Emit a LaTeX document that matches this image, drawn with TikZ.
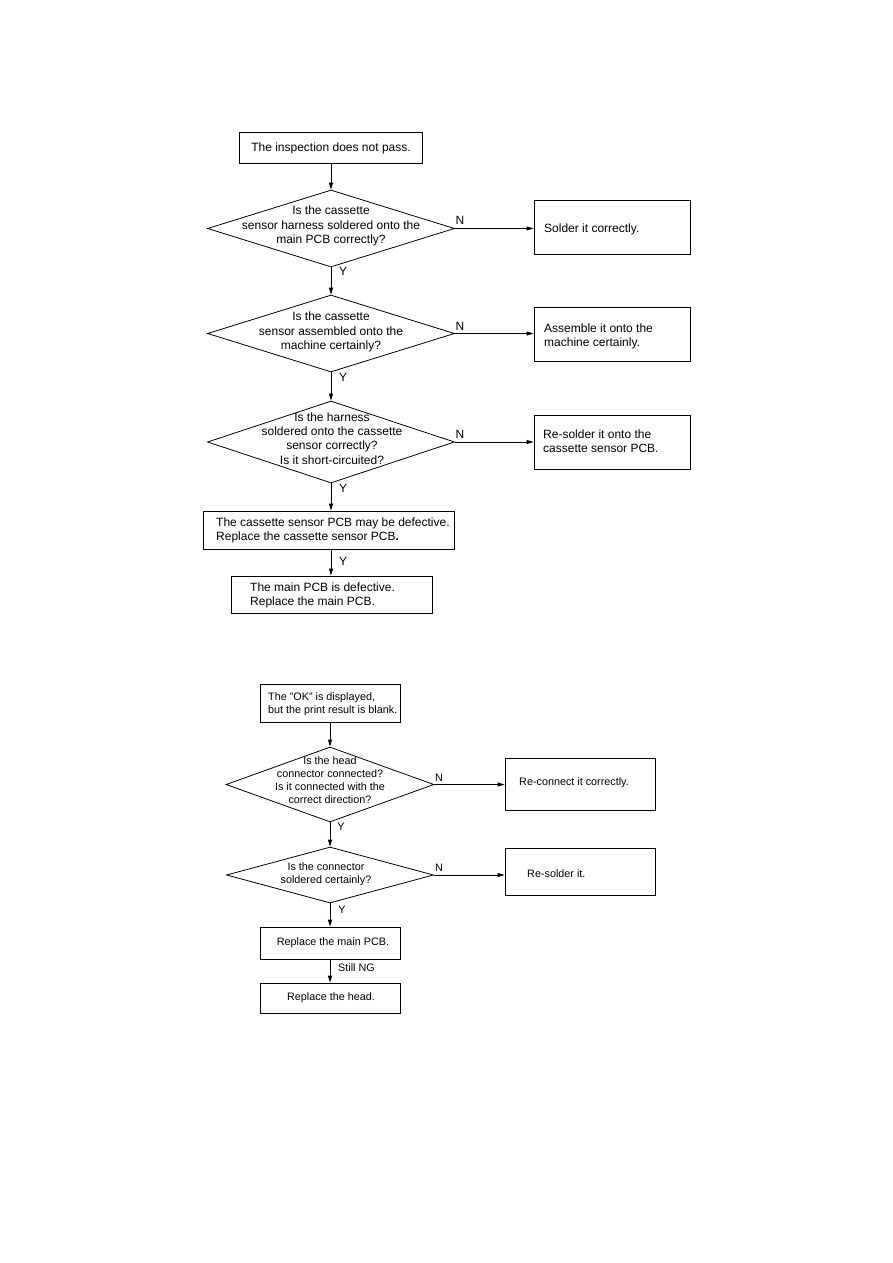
\documentclass[tikz,border=0pt]{standalone}
\usepackage{fontspec}
\setmainfont{Liberation Sans}
\usetikzlibrary{shapes.geometric,arrows.meta}
\newcommand{\fA}{\fontsize{12}{14.2}\selectfont}
\newcommand{\fB}{\fontsize{10.8}{13}\selectfont}
\tikzset{
  box/.style={draw, line width=0.8pt, inner sep=0pt},
  dia/.style={draw, diamond, line width=0.8pt, inner sep=0pt},
  txt/.style={inner sep=0pt, align=left},
  ctxt/.style={inner sep=0pt, align=center},
  lbl/.style={inner sep=0pt},
  arr/.style={line width=0.8pt, -{Triangle[length=7pt,width=4pt]}},
}
\begin{document}
\begin{tikzpicture}[x=1pt,y=-1pt]
\useasboundingbox (0,0) rectangle (893,1263);
% ---------- chart 1 ----------
\begin{scope}[font=\fA]
\node[box, minimum width=183pt, minimum height=31pt] (a) at (331,147.5) {};
\node[ctxt] (at) at (331,148.3) {The inspection does not pass.};

\node[dia, minimum width=247pt, minimum height=77pt] (d1) at (331,228.5) {};
\node[ctxt] (d1t) at (331,226) {Is the cassette\\sensor harness soldered onto the\\main PCB correctly?};
\node[box, minimum width=156pt, minimum height=54pt] (s1) at (612,227) {};
\node[txt, anchor=west] (s1t) at (544,229) {Solder it correctly.};

\node[dia, minimum width=247pt, minimum height=77pt] (d2) at (331,333.5) {};
\node[ctxt] (d2t) at (331,332) {Is the cassette\\sensor assembled onto the\\machine certainly?};
\node[box, minimum width=156pt, minimum height=54pt] (s2) at (612,334) {};
\node[txt, anchor=west] (s2t) at (544,336) {Assemble it onto the\\machine certainly.};

\node[dia, minimum width=247pt, minimum height=82pt] (d3) at (331,442) {};
\node[ctxt] (d3t) at (332,438.5) {Is the harness\\soldered onto the cassette\\sensor correctly?\\Is it short-circuited?};
\node[box, minimum width=156pt, minimum height=54pt] (s3) at (612,442) {};
\node[txt, anchor=west] (s3t) at (543,441.5) {Re-solder it onto the\\cassette sensor PCB.};

\node[box, minimum width=251pt, minimum height=38pt] (b1) at (328.5,530) {};
\node[txt, anchor=west] (b1t) at (216,530) {The cassette sensor PCB may be defective.\\Replace the cassette sensor PCB\textbf{.}};
\node[box, minimum width=201pt, minimum height=37pt] (b2) at (331.5,594.5) {};
\node[txt, anchor=west] (b2t) at (250,595) {The main PCB is defective.\\Replace the main PCB.};

\draw[arr] (a.south) -- (d1.north);
\draw[arr] (d1.east) -- (d1.east -| s1.west);
\draw[arr] (d1.south) -- (d2.north);
\draw[arr] (d2.east) -- (d2.east -| s2.west);
\draw[arr] (d2.south) -- (d3.north);
\draw[arr] (d3.east) -- (d3.east -| s3.west);
\draw[arr] (d3.south) -- (d3.south |- b1.north);
\draw[arr] (d3.south |- b1.south) -- (d3.south |- b2.north);

\node[lbl] (n1) at (460,220.7) {N};
\node[lbl] (y1) at (343,271.7) {Y};
\node[lbl] (n2) at (460,326.7) {N};
\node[lbl] (y2) at (343,377) {Y};
\node[lbl] (n3) at (460,434) {N};
\node[lbl] (y3) at (343,488) {Y};
\node[lbl] (y4) at (343,561) {Y};
\end{scope}
% ---------- chart 2 ----------
\begin{scope}[font=\fB]
\node[box, minimum width=140pt, minimum height=38pt] (c1) at (330,703) {};
\node[txt, anchor=west] (c1t) at (268,704) {The "OK" is displayed,\\but the print result is blank.};

\node[dia, minimum width=208pt, minimum height=75pt] (d4) at (330,784.5) {};
\node[ctxt] (d4t) at (330,780.5) {Is the head\\connector connected?\\Is it connected with the\\correct direction?};
\node[box, minimum width=150pt, minimum height=52pt] (r1) at (580,784) {};
\node[txt, anchor=west] (r1t) at (519,783) {Re-connect it correctly.};

\node[dia, minimum width=207pt, minimum height=56pt] (d5) at (330,875) {};
\node[ctxt] (d5t) at (326,874) {Is the connector\\soldered certainly?};
\node[box, minimum width=150pt, minimum height=47pt] (r2) at (580,871.5) {};
\node[txt, anchor=west] (r2t) at (527,874) {Re-solder it.};

\node[box, minimum width=140pt, minimum height=32pt] (c2) at (330,943) {};
\node[ctxt] (c2t) at (333,943) {Replace the main PCB.};
\node[box, minimum width=140pt, minimum height=30pt] (c3) at (330,998) {};
\node[ctxt] (c3t) at (331,998) {Replace the head.};

\draw[arr] (c1.south) -- (d4.north);
\draw[arr] (d4.east) -- (d4.east -| r1.west);
\draw[arr] (d4.south) -- (d5.north);
\draw[arr] (d5.east) -- (d5.east -| r2.west);
\draw[arr] (d5.south) -- (c2.north);
\draw[arr] (c2.south) -- (c3.north);

\node[lbl] (n4) at (439,778) {N};
\node[lbl] (y5) at (341,827) {Y};
\node[lbl] (n5) at (439,868) {N};
\node[lbl] (y6) at (342,910) {Y};
\node[lbl, anchor=west] (sng) at (338,968) {Still NG};
\end{scope}
\end{tikzpicture}
\end{document}
